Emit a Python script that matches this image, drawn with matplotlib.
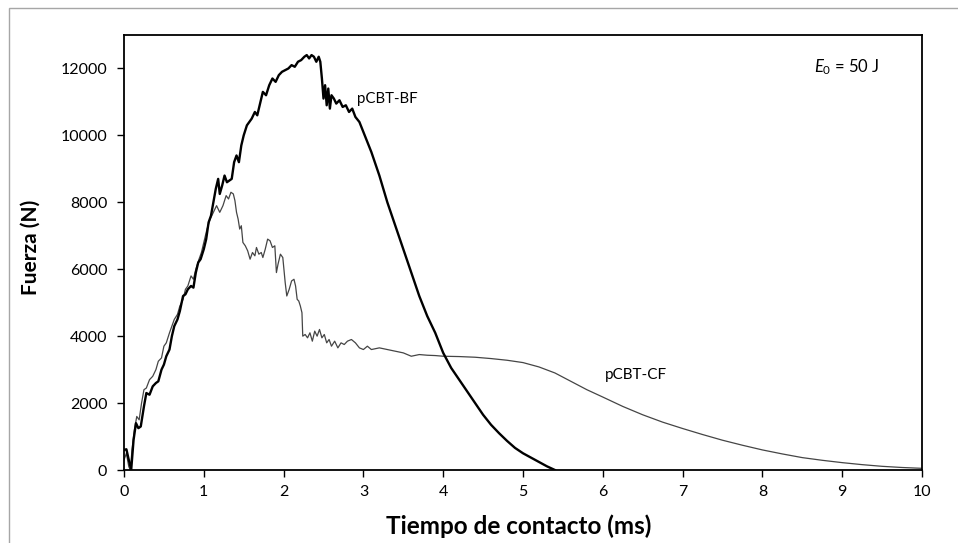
import matplotlib
matplotlib.use('Agg')
import matplotlib.pyplot as plt
from matplotlib.patches import Rectangle

plt.rcParams['font.family'] = ['Lato', 'DejaVu Sans']
plt.rcParams['mathtext.fontset'] = 'custom'
plt.rcParams['mathtext.rm'] = 'Lato'
plt.rcParams['mathtext.it'] = 'Lato:italic'

# pCBT-BF (linea gruesa)
bf_t = [0.00, 0.03, 0.06, 0.09, 0.12, 0.15, 0.18, 0.21, 0.25, 0.28, 0.32, 0.36, 0.40, 0.43,
        0.47, 0.50, 0.53, 0.57, 0.60, 0.63, 0.67, 0.70, 0.74, 0.77, 0.80, 0.84, 0.87, 0.90,
        0.93, 0.96, 1.00, 1.03, 1.06, 1.09, 1.12, 1.15, 1.18, 1.20, 1.23, 1.26, 1.29, 1.32,
        1.35, 1.38, 1.41, 1.44, 1.47, 1.50, 1.54, 1.57, 1.60, 1.64, 1.67, 1.71, 1.74, 1.78,
        1.82, 1.86, 1.90, 1.94, 1.98, 2.02, 2.06, 2.10, 2.14, 2.18, 2.22, 2.26, 2.29, 2.32,
        2.35, 2.38, 2.41, 2.44, 2.46, 2.48, 2.50, 2.52, 2.54, 2.56, 2.58, 2.60, 2.63, 2.66,
        2.70, 2.74, 2.78, 2.82, 2.86, 2.90, 2.95, 3.00, 3.05, 3.10, 3.20, 3.30, 3.40, 3.50,
        3.60, 3.70, 3.80, 3.90, 4.00, 4.10, 4.20, 4.30, 4.40, 4.50, 4.60, 4.70, 4.80, 4.90,
        5.00, 5.10, 5.20, 5.30, 5.40]
bf_f = [600, 620, 300, 0, 900, 1400, 1250, 1300, 1900, 2300, 2250, 2500, 2600, 2650,
        3000, 3150, 3400, 3600, 4000, 4300, 4500, 4750, 5200, 5250, 5400, 5500, 5450, 5900,
        6200, 6300, 6600, 6900, 7400, 7600, 8000, 8400, 8700, 8250, 8500, 8800, 8600, 8650,
        8700, 9200, 9400, 9200, 9700, 10000, 10300, 10400, 10500, 10700, 10600, 11000, 11300, 11200,
        11500, 11700, 11600, 11800, 11900, 11950, 12000, 12100, 12050, 12200, 12250, 12350, 12400, 12300,
        12400, 12350, 12200, 12350, 12200, 11700, 11100, 11500, 10900, 11400, 10800, 11200, 11100, 10950,
        11050, 10850, 10900, 10700, 10800, 10550, 10400, 10100, 9800, 9500, 8800, 8000, 7300, 6600,
        5900, 5200, 4600, 4100, 3500, 3050, 2700, 2350, 2000, 1650, 1350, 1100, 870, 660,
        500, 370, 240, 110, 0]

# pCBT-CF (linea fina)
cf_t = [0.00, 0.03, 0.06, 0.08, 0.10, 0.13, 0.16, 0.19, 0.22, 0.25, 0.28, 0.32, 0.36, 0.40,
        0.43, 0.47, 0.50, 0.53, 0.57, 0.60, 0.63, 0.67, 0.70, 0.74, 0.77, 0.80, 0.84, 0.87,
        0.90, 0.94, 0.97, 1.00, 1.04, 1.08, 1.12, 1.16, 1.20, 1.24, 1.28, 1.31, 1.34, 1.37,
        1.39, 1.41, 1.43, 1.45, 1.47, 1.49, 1.52, 1.55, 1.58, 1.61, 1.64, 1.66, 1.69, 1.72,
        1.74, 1.77, 1.80, 1.83, 1.86, 1.89, 1.91, 1.93, 1.96, 1.99, 2.02, 2.04, 2.07, 2.10,
        2.13, 2.15, 2.17, 2.19, 2.21, 2.23, 2.24, 2.27, 2.30, 2.33, 2.36, 2.39, 2.42, 2.45,
        2.48, 2.51, 2.54, 2.57, 2.60, 2.64, 2.68, 2.72, 2.76, 2.80, 2.85, 2.90, 2.95, 3.00,
        3.05, 3.10, 3.20, 3.30, 3.40, 3.50, 3.60, 3.70, 3.80, 3.90, 4.00, 4.20, 4.40, 4.60,
        4.80, 5.00, 5.20, 5.40, 5.60, 5.80, 6.00, 6.25, 6.50, 6.75, 7.00, 7.25, 7.50, 7.75,
        8.00, 8.25, 8.50, 8.75, 9.00, 9.25, 9.50, 9.75, 10.00]
cf_f = [300, 500, 100, 0, 600, 1200, 1600, 1500, 2000, 2400, 2450, 2700, 2800, 3000,
        3250, 3350, 3700, 3800, 4100, 4300, 4500, 4650, 4900, 5100, 5400, 5500, 5800, 5700,
        6000, 6300, 6500, 6800, 7200, 7500, 7700, 7900, 7700, 7900, 8200, 8100, 8300, 8250,
        8050, 7700, 7500, 7200, 7300, 6800, 6700, 6550, 6300, 6500, 6400, 6650, 6450, 6500,
        6350, 6600, 6900, 6850, 6650, 6700, 5900, 6150, 6450, 6350, 5600, 5200, 5400, 5650,
        5700, 5500, 5100, 5050, 4900, 4700, 4000, 4050, 3950, 4100, 3850, 4150, 4000, 4200,
        3950, 4050, 3800, 3900, 3700, 3850, 3650, 3800, 3750, 3850, 3900, 3800, 3650, 3600,
        3700, 3600, 3650, 3600, 3550, 3500, 3400, 3450, 3430, 3420, 3400, 3390, 3370, 3330,
        3280, 3210, 3080, 2900, 2650, 2400, 2180, 1900, 1650, 1430, 1240, 1060, 890, 740,
        600, 480, 370, 290, 220, 160, 110, 75, 50]

x_ticks = [0, 1, 2, 3, 4, 5, 6, 7, 8, 9, 10]
y_ticks = [0, 2000, 4000, 6000, 8000, 10000, 12000]

fig = plt.figure(figsize=(9.58, 5.43), dpi=100)
ax = fig.add_axes([124 / 958, 73 / 543, 798 / 958, 435 / 543])

ax.plot(cf_t, cf_f, color='#454545', linewidth=0.9)
ax.plot(bf_t, bf_f, color='black', linewidth=1.7)

ax.set_xlim(0, 10)
ax.set_ylim(0, 13000)
ax.set_xticks(x_ticks)
ax.set_yticks(y_ticks)
ax.tick_params(direction='out', length=5, width=1, labelsize=11.5, colors='black')
ax.tick_params(axis='y', pad=7)
ax.tick_params(axis='x', pad=6)
for sp in ax.spines.values():
    sp.set_linewidth(1.3)
    sp.set_color('black')

# titulos de ejes
fig.text(519 / 958, 1 - 526 / 543, 'Tiempo de contacto (ms)', fontsize=17.5,
         fontweight='bold', ha='center', va='center')
fig.text(31 / 958, 1 - 247 / 543, 'Fuerza (N)', fontsize=15, fontweight='bold',
         rotation=90, ha='center', va='center')

ax.text(8.65, 12036, r'$E_0$ = 50 J', fontsize=12, ha='left', va='center')
ax.text(2.92, 11078, 'pCBT-BF', fontsize=10.8, ha='left', va='center')
ax.text(6.02, 2844, 'pCBT-CF', fontsize=11, ha='left', va='center')

# marco gris exterior
fig.patches.append(Rectangle((9 / 958, -0.1), 1.2, (543 - 8) / 543 + 0.1,
                             transform=fig.transFigure, fill=False,
                             edgecolor='#a6a6a6', linewidth=1))

fig.savefig('out.png', dpi=100)
